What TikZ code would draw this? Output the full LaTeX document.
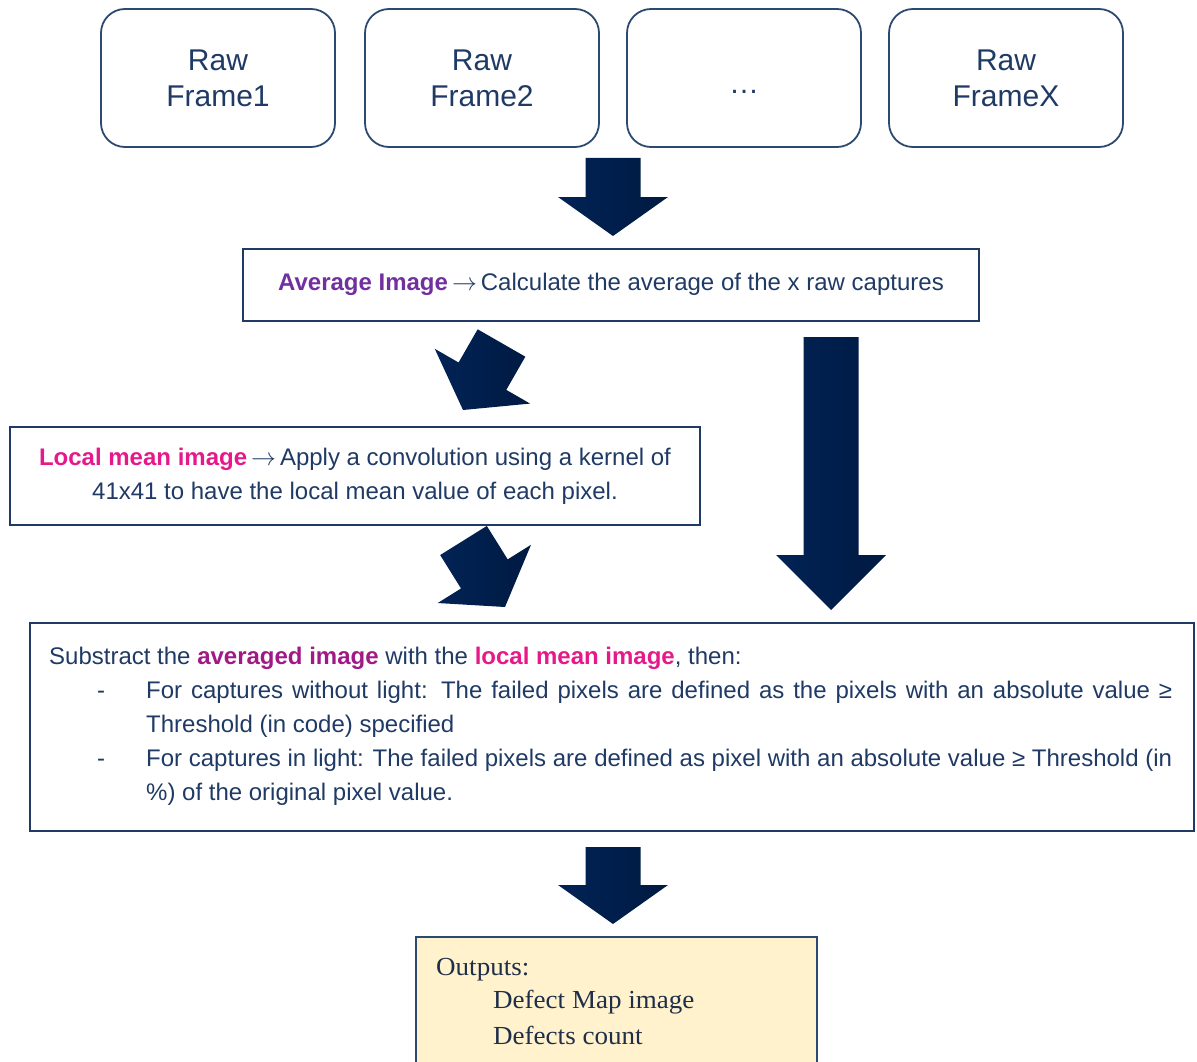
\documentclass[tikz,border=0pt]{standalone}
\usepackage{fontspec}
\setmainfont{Liberation Sans}
\newfontfamily\outfont[FakeStretch=1.04]{Liberation Serif}
\usetikzlibrary{calc}
\definecolor{ink}{HTML}{1F3A64}
\definecolor{frameline}{HTML}{2C4A70}
\definecolor{purp}{HTML}{7030A0}
\definecolor{magen}{HTML}{E6198A}
\definecolor{plum}{HTML}{A01A86}
\definecolor{arrA}{HTML}{012355}
\definecolor{arrB}{HTML}{001A42}
\definecolor{outfill}{HTML}{FFF2CC}
\definecolor{outink}{HTML}{1F2F4A}

\newcommand\blockarr[3][39pt]{%
  \path ($(#3)!#1!(#2)$) coordinate (hb);
  \shade[left color=arrA,right color=arrB]
    ($(#2)!27.5pt!90:(#3)$) -- ($(hb)!27.5pt!90:(#3)$) -- ($(hb)!55pt!90:(#3)$) -- (#3)
    -- ($(hb)!55pt!-90:(#3)$) -- ($(hb)!27.5pt!-90:(#3)$) -- ($(#2)!27.5pt!-90:(#3)$) -- cycle;}
\newcommand\rarr{\,$\rightarrow$\,}

\begin{document}
\begin{tikzpicture}[x=1pt,y=-1pt,
  frame/.style={draw=frameline,line width=1.8pt,rounded corners=24pt,minimum width=234pt,minimum height=138pt,inner sep=0pt,align=center,text=ink,font=\fontsize{30}{36}\selectfont},
  rbox/.style={draw=ink,line width=1.8pt,inner sep=0pt,text=ink},
  txt/.style={inner sep=0pt,text=ink,anchor=base west,font=\fontsize{24}{34}\selectfont},
  otxt/.style={inner sep=0pt,text=outink,anchor=base west,font=\outfont\fontsize{26}{30}\selectfont}]

\clip (0,0) rectangle (1197,1062);

% raw frames
\node[frame] (f1) at (218,78) {Raw\\Frame1};
\node[frame] (f2) at (482,78) {Raw\\Frame2};
\node[frame] (f3) at (744,78) {};
\node[inner sep=0pt,anchor=base,text=ink,font=\fontsize{30}{36}\selectfont] (f3t) at (f3.center |- 0,94) {…};
\node[frame] (f4) at (1006,78) {Raw\\FrameX};

% average image
\node[rbox,minimum width=736pt,minimum height=72pt,text height=15pt,text depth=5pt,font=\fontsize{24}{30}\selectfont] (avg) at (611,285)
  {{\color{purp}\bfseries Average Image}\rarr Calculate the average of the x raw captures};

% local mean
\node[rbox,minimum width=690pt,minimum height=98pt,align=center,font=\fontsize{24}{34}\selectfont] (lm) at (355,476)
  {{\color{magen}\bfseries Local mean image}\rarr Apply a convolution using a kernel of\\41x41 to have the local mean value of each pixel.};

% subtract box
\node[rbox,minimum width=1164pt,minimum height=208pt] (sub) at (612,727) {};
\node[txt] (s1) at (49,664) {Substract the {\color{plum}\bfseries averaged image} with the {\color{magen}\bfseries local mean image}, then:};
\node[txt] (d1) at (97,698) {-};
\node[txt] (s2) at (146,698) {\makebox[1026pt][s]{For captures without light: The failed pixels are defined as the pixels with an absolute value ≥}};
\node[txt] (s3) at (146,732) {Threshold (in code) specified};
\node[txt] (d2) at (97,766) {-};
\node[txt] (s4) at (146,766) {\makebox[1026pt][s]{For captures in light: The failed pixels are defined as pixel with an absolute value ≥ Threshold (in}};
\node[txt] (s5) at (146,800) {\%) of the original pixel value.};

% outputs
\node[draw=frameline,fill=outfill,line width=1.6pt,minimum width=401pt,minimum height=140pt,inner sep=0pt] (out) at (616.5,1007) {};
\node[otxt] (o1) at (436,975) {Outputs:};
\node[otxt] (o2) at (493,1008) {Defect Map image};
\node[otxt] (o3) at (493,1044) {Defects count};

% block arrows
\coordinate (a1s) at (613,158); \coordinate (a1e) at (613,236);
\coordinate (a2s) at (501.5,343); \coordinate (a2e) at (463,410);
\coordinate (a3s) at (831,337); \coordinate (a3e) at (831,610);
\coordinate (a4s) at (463.5,540.5); \coordinate (a4e) at (505,607);
\coordinate (a5s) at (613,847); \coordinate (a5e) at (613,924);
\blockarr{a1s}{a1e}
\blockarr{a2s}{a2e}
\blockarr[55pt]{a3s}{a3e}
\blockarr{a4s}{a4e}
\blockarr{a5s}{a5e}
\end{tikzpicture}
\end{document}
